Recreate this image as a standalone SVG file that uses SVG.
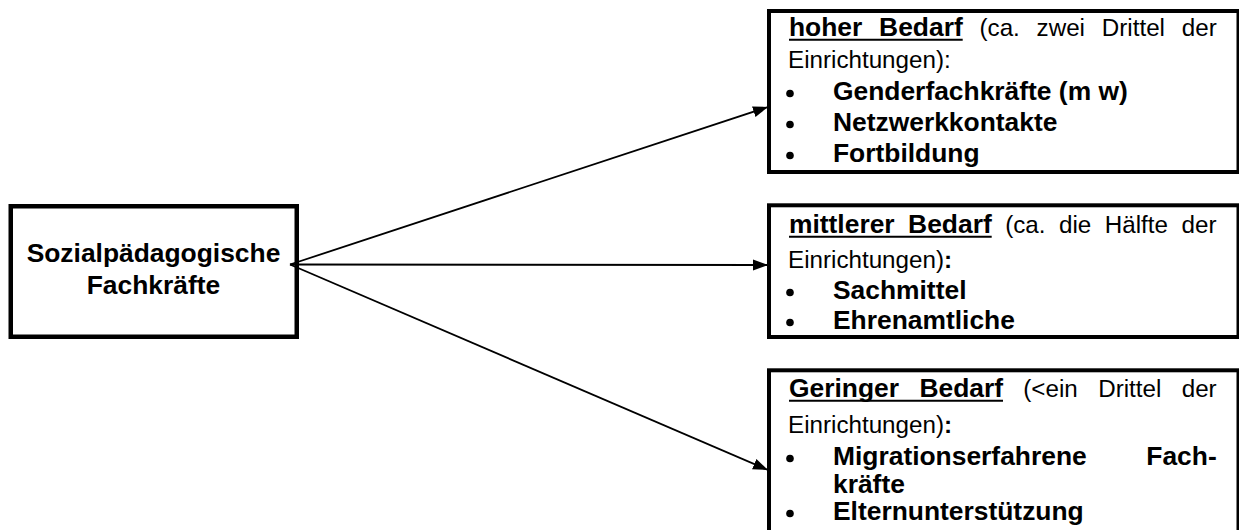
<svg xmlns="http://www.w3.org/2000/svg" width="1239" height="530" viewBox="0 0 1239 530">
<style>
.box{fill:none;stroke:#000;stroke-width:4}
.t{font-family:"Liberation Sans",Arial,sans-serif;fill:#000}
.r{font-size:24.2px}
.i{font-size:26.4px;font-weight:bold}
.ul{stroke:#000;stroke-width:2}
.con{stroke:#000;stroke-width:1.8;fill:none}
.bul{fill:#000}
</style>
<defs>
<marker id="ah" markerUnits="userSpaceOnUse" markerWidth="16" markerHeight="12" refX="15" refY="6" orient="auto">
<path d="M0,0.5 L15,6 L0,11.5 z" fill="#000"/>
</marker>
</defs>
<g id="connectors">
<line class="con" x1="290" y1="264.5" x2="768" y2="107" marker-end="url(#ah)"/>
<line class="con" x1="290" y1="264.5" x2="768" y2="265" marker-end="url(#ah)"/>
<line class="con" x1="290" y1="264.5" x2="768" y2="470" marker-end="url(#ah)"/>
</g>
<g id="source">
<rect class="box" x="10.75" y="206.25" width="286" height="130.5" style="stroke-width:4.5"/>
<text class="t i" x="153.5" y="262" text-anchor="middle">Sozialpädagogische</text>
<text class="t i" x="153.5" y="294" text-anchor="middle">Fachkräfte</text>
</g>
<g id="hoher">
<rect class="box" x="769" y="11" width="469.5" height="161"/>
<text class="t i" x="789" y="36">hoher</text>
<text class="t i" x="879.1" y="36">Bedarf</text>
<line class="ul" x1="789" y1="39.8" x2="962.7" y2="39.8"/>
<text class="t r" x="979.5" y="36">(ca.</text>
<text class="t r" x="1036.6" y="36">zwei</text>
<text class="t r" x="1101.8" y="36">Drittel</text>
<text class="t r" x="1181.8" y="36">der</text>
<text class="t r" x="788" y="68">Einrichtungen):</text>
<circle class="bul" cx="790" cy="93.5" r="3.8"/>
<text class="t i" x="833" y="100">Genderfachkräfte (m w)</text>
<circle class="bul" cx="790" cy="124.5" r="3.8"/>
<text class="t i" x="833" y="131">Netzwerkkontakte</text>
<circle class="bul" cx="790" cy="155.5" r="3.8"/>
<text class="t i" x="833" y="162">Fortbildung</text>
</g>
<g id="mittlerer">
<rect class="box" x="769" y="205.3" width="469.5" height="131.7"/>
<text class="t i" x="789" y="233">mittlerer</text>
<text class="t i" x="908.1" y="233">Bedarf</text>
<line class="ul" x1="789" y1="236.8" x2="991.7" y2="236.8"/>
<text class="t r" x="1005.2" y="233">(ca.</text>
<text class="t r" x="1059" y="233">die</text>
<text class="t r" x="1104.8" y="233">Hälfte</text>
<text class="t r" x="1181.5" y="233">der</text>
<text class="t r" x="788" y="268">Einrichtungen)<tspan font-weight="bold">:</tspan></text>
<circle class="bul" cx="790" cy="292.5" r="3.8"/>
<text class="t i" x="833" y="299">Sachmittel</text>
<circle class="bul" cx="790" cy="322.5" r="3.8"/>
<text class="t i" x="833" y="329">Ehrenamtliche</text>
</g>
<g id="geringer">
<rect class="box" x="769" y="370.3" width="469.5" height="200"/>
<text class="t i" x="789" y="397">Geringer</text>
<text class="t i" x="919.4" y="397">Bedarf</text>
<line class="ul" x1="789" y1="400.8" x2="1003" y2="400.8"/>
<text class="t r" x="1023.3" y="397">(&lt;ein</text>
<text class="t r" x="1098.2" y="397">Drittel</text>
<text class="t r" x="1181.7" y="397">der</text>
<text class="t r" x="788" y="433">Einrichtungen)<tspan font-weight="bold">:</tspan></text>
<circle class="bul" cx="790" cy="458.5" r="3.8"/>
<text class="t i" x="833" y="465">Migrationserfahrene</text>
<text class="t i" x="1216.7" y="465" text-anchor="end">Fach-</text>
<text class="t i" x="833" y="493">kräfte</text>
<circle class="bul" cx="790" cy="513.5" r="3.8"/>
<text class="t i" x="833" y="520">Elternunterstützung</text>
</g>
</svg>
